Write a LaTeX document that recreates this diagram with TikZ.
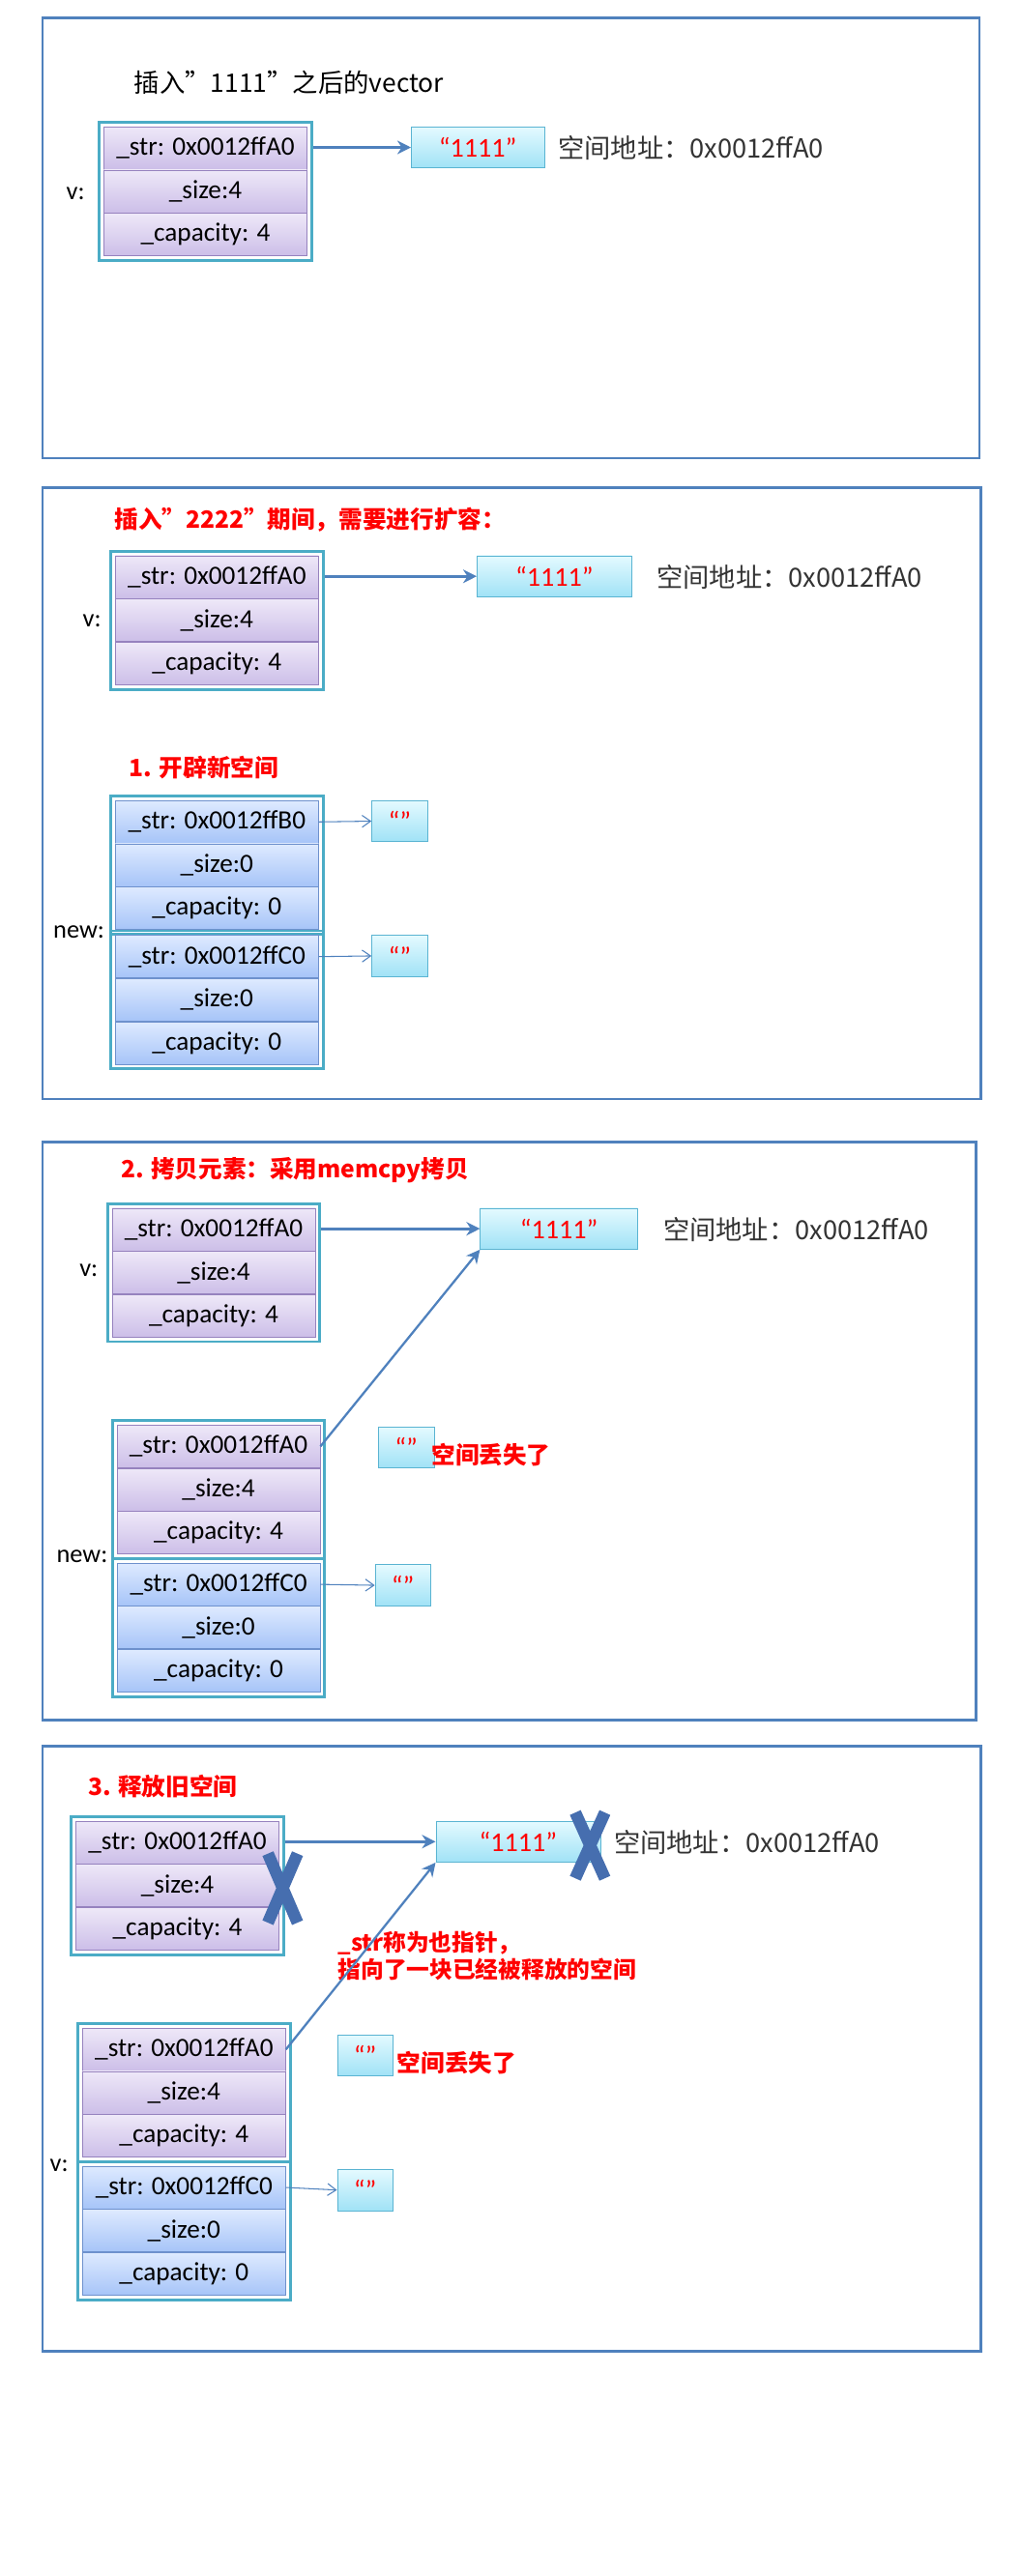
\documentclass[tikz,border=0pt]{standalone}
\usepackage{fontspec}
\setmainfont{Carlito}
\newfontfamily\cjk{Noto Sans CJK SC}
\usetikzlibrary{positioning,fit,arrows.meta}
\definecolor{panelblue}{RGB}{79,129,189}
\definecolor{frameteal}{RGB}{75,172,198}
\definecolor{cellpurpleA}{RGB}{238,232,248}
\definecolor{cellpurpleB}{RGB}{204,190,232}
\definecolor{cellpurpleD}{RGB}{150,130,190}
\definecolor{cellblueA}{RGB}{222,234,255}
\definecolor{cellblueB}{RGB}{166,196,248}
\definecolor{cellblueD}{RGB}{110,145,205}
\definecolor{strA}{RGB}{228,250,255}
\definecolor{strB}{RGB}{160,226,246}
\definecolor{strD}{RGB}{90,180,210}
\definecolor{crossblue}{RGB}{70,110,175}
\tikzset{
  panel/.style={draw=panelblue,line width=1.6pt},
  cellP/.style={draw=cellpurpleD,top color=cellpurpleA,bottom color=cellpurpleB,
    minimum width=4.2cm,minimum height=0.88cm,inner sep=0pt,font=\fontsize{15.5}{18}\selectfont},
  cellB/.style={cellP,draw=cellblueD,top color=cellblueA,bottom color=cellblueB},
  frame/.style={draw=frameteal,line width=1.6pt,inner sep=2.5pt},
  strbox/.style={draw=strD,top color=strA,bottom color=strB,minimum height=0.85cm,
    inner sep=0pt,text=red,font=\fontsize{16}{18}\selectfont},
  emptybox/.style={strbox,minimum width=1.15cm},
  ptr/.style={draw=panelblue,line width=1.8pt,-{Stealth[length=8pt,width=8pt]}},
  thinptr/.style={draw=panelblue,line width=0.6pt,-{Straight Barb[length=5pt,width=7pt]}},
  lbl/.style={font=\fontsize{15}{18}\selectfont},
  addr/.style={anchor=west,font=\cjk\fontsize{15.5}{18}\selectfont,text=black!80},
  note/.style={anchor=west,text=red,font=\cjk\bfseries\fontsize{14}{17}\selectfont},
  cross/.style={draw=crossblue,line width=7pt}
}
% one struct block: prefix, x, y (top left), str, size, capacity, cell style
\newcommand{\structblock}[7]{%
  \node[#7,anchor=north west] (#1s) at (#2,#3) {\_str: #4};
  \node[#7,below=0pt of #1s] (#1z) {\_size:#5};
  \node[#7,below=0pt of #1z] (#1c) {\_capacity: #6};
  \node[frame,fit=(#1s)(#1c)] (#1) {};
}
\begin{document}
\begin{tikzpicture}[x=0.034cm,y=-0.034cm]
\useasboundingbox (0,0) rectangle (620.6,1567.6);

% panel 1
\node[panel,minimum width=570*0.034cm,minimum height=268*0.034cm,anchor=north west] (p1) at (25,10) {};
\node[anchor=west,font=\cjk\fontsize{15}{18}\selectfont] (t1) at (78,50) {插入”1111”之后的vector};
\structblock{a}{63}{77}{0x0012ffA0}{4}{4}{cellP}
\node[lbl] (av) at (46,118) {v:};
\node[strbox,minimum width=2.75cm,anchor=north west] (as) at (250,77) {“1111”};
\node[addr] (aa) at (336,90) {空间地址：0x0012ffA0};
\draw[ptr] (as.west -| a.east) -- (as.west);

% panel 2
\node[panel,minimum width=571*0.034cm,minimum height=372*0.034cm,anchor=north west] (p2) at (25,296) {};
\node[note] (t2) at (66,316) {插入”2222”期间，需要进行扩容：};
\structblock{b}{70}{338}{0x0012ffA0}{4}{4}{cellP}
\node[lbl] (bv) at (56,378) {v:};
\node[strbox,minimum width=3.2cm,anchor=north west] (bs) at (290,338) {“1111”};
\node[addr] (ba) at (396,351) {空间地址：0x0012ffA0};
\draw[ptr] (bs.west -| b.east) -- (bs.west);
\node[note] (t2b) at (75,467) {1. 开辟新空间};
\structblock{c}{70}{487}{0x0012ffB0}{0}{0}{cellB}
\structblock{d}{70}{569}{0x0012ffC0}{0}{0}{cellB}
\node[lbl] (cn) at (48,567) {new:};
\node[emptybox,anchor=north west] (ce) at (226,487) {“”};
\node[emptybox,anchor=north west] (de) at (226,569) {“”};
\draw[thinptr] (cs.east) -- (ce.west);
\draw[thinptr] (ds.east) -- (de.west);

% panel 3
\node[panel,minimum width=568*0.034cm,minimum height=352*0.034cm,anchor=north west] (p3) at (25,694) {};
\node[note] (t3) at (70,712) {2. 拷贝元素：采用memcpy拷贝};
\structblock{e}{68}{735}{0x0012ffA0}{4}{4}{cellP}
\node[lbl] (ev) at (54,773) {v:};
\node[strbox,minimum width=3.25cm,anchor=north west] (es) at (292,735) {“1111”};
\node[addr] (ea) at (400,748) {空间地址：0x0012ffA0};
\draw[ptr] (es.west -| e.east) -- (es.west);
\structblock{f}{71}{867}{0x0012ffA0}{4}{4}{cellP}
\structblock{g}{71}{951}{0x0012ffC0}{0}{0}{cellB}
\node[lbl] (fn) at (50,947) {new:};
\node[emptybox,anchor=north west] (fe) at (230,868) {“”};
\node[note] (fl) at (259,885) {空间丢失了};
\node[emptybox,anchor=north west] (ge) at (228,952) {“”};
\draw[ptr,line width=1.3pt] (fs.east) -- (es.south west);
\draw[thinptr] (gs.east) -- (ge.west);

% panel 4
\node[panel,minimum width=571*0.034cm,minimum height=368*0.034cm,anchor=north west] (p4) at (25,1062) {};
\node[note] (t4) at (50,1087) {3. 释放旧空间};
\structblock{h}{46}{1108}{0x0012ffA0}{4}{4}{cellP}
\node[strbox,minimum width=3.4cm,anchor=north west] (hs) at (265,1108) {“1111”\hspace{1.2em}};
\node[addr] (ha) at (370,1121) {空间地址：0x0012ffA0};
\draw[ptr] (hs.west -| h.east) -- (hs.west);
\draw[cross] (163,1128) -- (181,1170) (181,1128) -- (163,1170);
\draw[cross] (350,1103) -- (368,1143) (368,1103) -- (350,1143);
\node[note,align=left,font=\cjk\bfseries\fontsize{13.5}{16}\selectfont] (hn) at (202,1190) {\_str称为也指针，\\指向了一块已经被释放的空间};
\structblock{k}{50}{1234}{0x0012ffA0}{4}{4}{cellP}
\structblock{m}{50}{1318}{0x0012ffC0}{0}{0}{cellB}
\node[lbl] (kv) at (36,1318) {v:};
\node[emptybox,anchor=north west] (ke) at (205,1238) {“”};
\node[note] (kl) at (238,1255) {空间丢失了};
\node[emptybox,anchor=north west] (me) at (205,1320) {“”};
\draw[ptr,line width=1.3pt] (ks.east) -- (hs.south west);
\draw[thinptr] (ms.east) -- (me.west);
\end{tikzpicture}
\end{document}
